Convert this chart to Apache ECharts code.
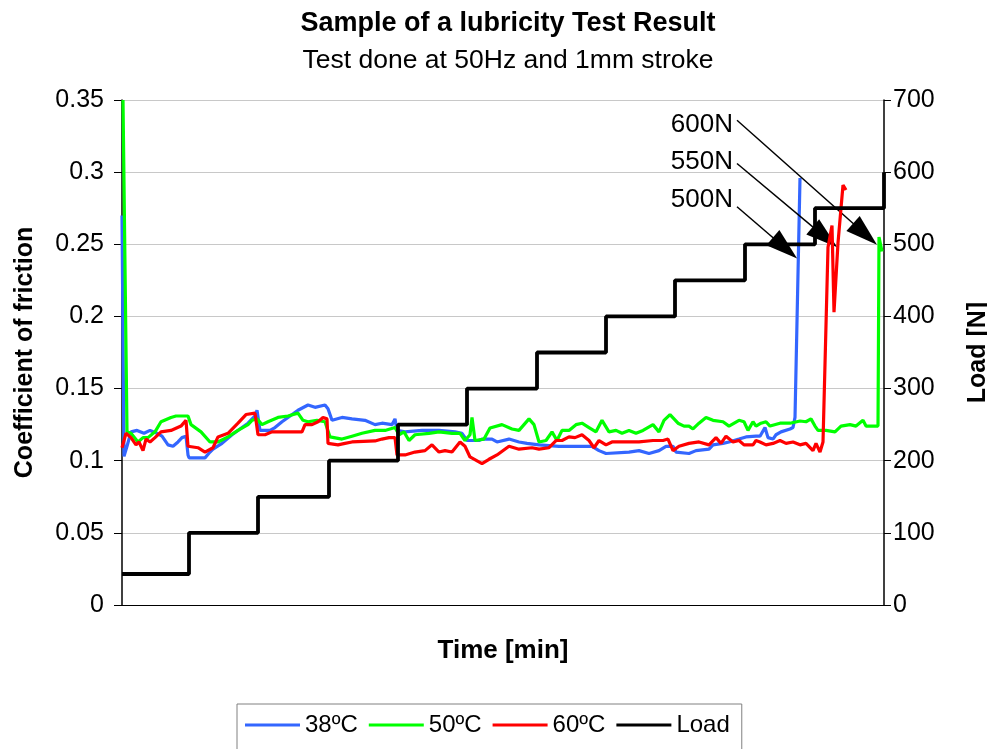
<!DOCTYPE html>
<html>
<head>
<meta charset="utf-8">
<script src="https://cdn.jsdelivr.net/npm/echarts@6/dist/echarts.min.js"></script>
<style>
  html, body { margin: 0; padding: 0; background: #fff; overflow: hidden; }
  #chart { width: 987px; height: 749px; }
</style>
</head>
<body>
<div id="chart"></div>
<script>
// ---- Data (time in arbitrary units along the test; friction coefficient; load in N) ----
const seriesNames = ['38ºC', '50ºC', '60ºC', 'Load'];

const cof38 = [
  [0, 0.27], [2, 0.103], [5, 0.110], [9, 0.120], [15, 0.121], [22, 0.119], [28, 0.121], [35, 0.119],
  [40, 0.117], [46, 0.111], [51, 0.110], [56, 0.113], [60, 0.116], [64, 0.117], [66, 0.104], [67, 0.102],
  [83, 0.102], [88, 0.106], [91, 0.108], [100, 0.112], [110, 0.118], [120, 0.123], [126, 0.126], [133, 0.131],
  [135, 0.135], [138, 0.121], [148, 0.121], [153, 0.123], [160, 0.127], [166, 0.130], [176, 0.135], [186, 0.1386],
  [193, 0.137], [203, 0.1386], [206, 0.136], [210, 0.128], [220, 0.130], [230, 0.129], [243, 0.128], [253, 0.125],
  [260, 0.126], [270, 0.125], [273, 0.129], [275, 0.121], [283, 0.120], [300, 0.121], [317, 0.121], [333, 0.120],
  [340, 0.119], [345, 0.114], [357, 0.114], [360, 0.115], [370, 0.115], [375, 0.113], [387, 0.115], [397, 0.113],
  [405, 0.112], [417, 0.111], [437, 0.110], [457, 0.110], [470, 0.110], [477, 0.107], [484, 0.105], [507, 0.106],
  [517, 0.107], [527, 0.105], [537, 0.107], [544, 0.110], [551, 0.110], [554, 0.106], [567, 0.105], [574, 0.107],
  [587, 0.108], [591, 0.111], [601, 0.112], [607, 0.113], [617, 0.115], [624, 0.1165], [634, 0.117], [638, 0.117],
  [643, 0.123], [646, 0.116], [651, 0.115], [654, 0.118], [659, 0.120], [668, 0.122], [671, 0.123], [673, 0.130],
  [678, 0.296]
];

const cof50 = [
  [1, 0.35], [5, 0.120], [9, 0.119], [16, 0.113], [21, 0.116], [26, 0.116], [33, 0.120], [39, 0.127],
  [49, 0.130], [54, 0.131], [66, 0.131], [69, 0.125], [79, 0.120], [88, 0.113], [96, 0.113], [106, 0.1165],
  [116, 0.121], [126, 0.125], [130, 0.128], [135, 0.129], [140, 0.125], [146, 0.127], [156, 0.130], [166, 0.131],
  [176, 0.133], [181, 0.128], [186, 0.127], [195, 0.128], [203, 0.127], [208, 0.1165], [220, 0.115], [230, 0.117],
  [240, 0.119], [253, 0.121], [263, 0.121], [273, 0.123], [277, 0.118], [282, 0.120], [287, 0.114], [293, 0.118],
  [307, 0.119], [317, 0.120], [330, 0.119], [338, 0.119], [343, 0.114], [348, 0.118], [350, 0.130], [353, 0.114],
  [362, 0.115], [368, 0.1227], [380, 0.125], [390, 0.122], [397, 0.121], [407, 0.129], [412, 0.125], [417, 0.113],
  [424, 0.114], [430, 0.120], [435, 0.114], [440, 0.121], [447, 0.121], [454, 0.125], [460, 0.126], [467, 0.123],
  [474, 0.120], [480, 0.128], [487, 0.120], [494, 0.121], [500, 0.119], [507, 0.121], [514, 0.119], [521, 0.121],
  [531, 0.125], [537, 0.120], [542, 0.128], [548, 0.132], [556, 0.126], [562, 0.124], [567, 0.124], [571, 0.122],
  [577, 0.126], [584, 0.130], [591, 0.128], [601, 0.127], [607, 0.124], [617, 0.128], [622, 0.127], [626, 0.121],
  [631, 0.127], [634, 0.124], [639, 0.126], [644, 0.127], [648, 0.124], [658, 0.126], [668, 0.126], [678, 0.1275],
  [684, 0.127], [689, 0.129], [693, 0.124], [696, 0.121], [704, 0.121], [713, 0.120], [719, 0.124], [728, 0.125],
  [734, 0.124], [741, 0.128], [744, 0.124], [756, 0.124], [757, 0.255], [760, 0.245]
];

const cof60 = [
  [0, 0.109], [4, 0.119], [9, 0.116], [14, 0.111], [17, 0.113], [21, 0.107], [24, 0.115], [28, 0.113],
  [33, 0.116], [39, 0.120], [49, 0.121], [59, 0.124], [64, 0.128], [66, 0.110], [76, 0.109], [83, 0.106],
  [91, 0.109], [96, 0.1165], [106, 0.119], [116, 0.126], [124, 0.132], [133, 0.133], [136, 0.118], [143, 0.118],
  [150, 0.120], [180, 0.120], [183, 0.125], [190, 0.125], [196, 0.127], [201, 0.130], [205, 0.129], [206, 0.112],
  [216, 0.111], [223, 0.112], [230, 0.113], [253, 0.1137], [260, 0.115], [267, 0.116], [273, 0.116], [275, 0.104],
  [283, 0.104], [293, 0.106], [303, 0.107], [310, 0.111], [317, 0.106], [323, 0.107], [330, 0.106], [338, 0.113],
  [343, 0.110], [348, 0.1026], [360, 0.098], [367, 0.101], [375, 0.104], [387, 0.110], [397, 0.108], [410, 0.109],
  [417, 0.108], [427, 0.109], [434, 0.114], [440, 0.114], [447, 0.1165], [453, 0.116], [460, 0.118], [467, 0.114],
  [472, 0.109], [477, 0.114], [484, 0.111], [490, 0.113], [500, 0.113], [507, 0.113], [517, 0.113], [531, 0.114],
  [541, 0.114], [546, 0.115], [551, 0.107], [557, 0.110], [567, 0.112], [577, 0.113], [587, 0.111], [594, 0.116],
  [599, 0.112], [604, 0.117], [611, 0.113], [617, 0.114], [622, 0.111], [631, 0.111], [634, 0.114], [638, 0.113],
  [644, 0.111], [651, 0.112], [658, 0.114], [664, 0.112], [671, 0.113], [678, 0.111], [684, 0.112], [691, 0.107],
  [694, 0.112], [698, 0.106], [701, 0.113], [703, 0.113], [706, 0.248], [710, 0.263], [712, 0.203], [716, 0.251],
  [721, 0.291], [724, 0.2876]
];

const loadStepTimes = [0, 67, 136, 207, 276, 345, 415, 484, 553, 623, 693, 762];
const loadStepValues = [43, 100, 150, 200, 250, 300, 350, 400, 450, 500, 550, 600];

// Annotation arrows: text anchor, line start, arrowhead centre
const annotationLabels = ['600N', '550N', '500N'];
const annotationTextAnchors = [[615, 0.333], [615, 0.307], [615, 0.281]];
const annotationStarts = [[615, 0.336], [615, 0.306], [615, 0.276]];
const annotationEnds = [[743, 0.2571], [703, 0.2550], [663, 0.2474]];

const frictionTicks = { min: 0, max: 0.35, interval: 0.05 };
const loadTicks = { min: 0, max: 700, interval: 100 };

// ---- Chart ----
const FONT = '"Liberation Sans", Arial, sans-serif';
const chart = echarts.init(document.getElementById('chart'), null, { renderer: 'canvas', width: 987, height: 749 });

const loadData = loadStepTimes.map((t, i) => [t, loadStepValues[i]]);

const option = {
  backgroundColor: '#ffffff',
  animation: false,
  textStyle: { fontFamily: FONT, color: '#000' },
  title: {
    text: 'Sample of a lubricity Test Result',
    subtext: 'Test done at 50Hz and 1mm stroke',
    left: 503, top: 5, textAlign: 'center', itemGap: 10,
    textStyle: { fontFamily: FONT, fontSize: 27, fontWeight: 'bold', color: '#000' },
    subtextStyle: { fontFamily: FONT, fontSize: 26.5, color: '#000' }
  },
  legend: {
    data: seriesNames,
    left: 237, top: 704,
    padding: [9, 12, 30, 8],
    itemGap: 11,
    itemWidth: 55, itemHeight: 3,
    icon: 'rect',
    borderColor: '#808080', borderWidth: 1,
    textStyle: { fontFamily: FONT, fontSize: 24, color: '#000' }
  },
  grid: { left: 122, right: 103, top: 100, bottom: 144, containLabel: false, outerBoundsMode: 'none' },
  xAxis: {
    type: 'value', min: 0, max: 762,
    name: 'Time [min]', nameLocation: 'middle', nameGap: 33,
    nameTextStyle: { fontFamily: FONT, fontSize: 26, fontWeight: 'bold', color: '#000' },
    axisLine: { show: true, onZero: false, lineStyle: { color: '#000', width: 1 } },
    axisTick: { show: false }, axisLabel: { show: false }, splitLine: { show: false }
  },
  yAxis: [
    {
      type: 'value', position: 'left',
      min: frictionTicks.min, max: frictionTicks.max, interval: frictionTicks.interval,
      name: 'Coefficient of friction', nameLocation: 'middle', nameGap: 84, nameRotate: 90,
      nameTextStyle: { fontFamily: FONT, fontSize: 25, fontWeight: 'bold', color: '#000' },
      axisLine: { show: true, lineStyle: { color: '#000', width: 1.5 } },
      axisTick: { show: true, length: 8, lineStyle: { color: '#000' } },
      axisLabel: { fontFamily: FONT, fontSize: 25, color: '#000', margin: 18,
        formatter: v => String(+v.toFixed(2)) },
      splitLine: { show: true, lineStyle: { color: '#c8c8c8', width: 1 } }
    },
    {
      type: 'value', position: 'right',
      min: loadTicks.min, max: loadTicks.max, interval: loadTicks.interval,
      name: 'Load [N]', nameLocation: 'middle', nameGap: 82, nameRotate: 90,
      nameTextStyle: { fontFamily: FONT, fontSize: 25, fontWeight: 'bold', color: '#000' },
      axisLine: { show: true, lineStyle: { color: '#000', width: 1.5 } },
      axisTick: { show: true, length: 7, lineStyle: { color: '#000' } },
      axisLabel: { fontFamily: FONT, fontSize: 25, color: '#000', margin: 9 },
      splitLine: { show: false }
    }
  ],
  series: [
    { name: '38ºC', type: 'line', data: cof38, yAxisIndex: 0, showSymbol: false, symbol: 'none',
      lineStyle: { color: '#3366ff', width: 3.2 }, itemStyle: { color: '#3366ff' }, z: 3 },
    { name: '50ºC', type: 'line', data: cof50, yAxisIndex: 0, showSymbol: false, symbol: 'none',
      lineStyle: { color: '#00ff00', width: 3.2 }, itemStyle: { color: '#00ff00' }, z: 4 },
    { name: '60ºC', type: 'line', data: cof60, yAxisIndex: 0, showSymbol: false, symbol: 'none',
      lineStyle: { color: '#ff0000', width: 3.2 }, itemStyle: { color: '#ff0000' }, z: 5 },
    { name: 'Load', type: 'line', data: loadData, yAxisIndex: 1, step: 'end', showSymbol: false, symbol: 'none',
      lineStyle: { color: '#000000', width: 3.8 }, itemStyle: { color: '#000000' }, z: 6 },
    {
      name: 'annotations', type: 'scatter', yAxisIndex: 0, symbolSize: 0, silent: true, z: 7,
      itemStyle: { opacity: 1, color: '#000' },
      data: annotationTextAnchors.map((p, i) => ({ value: p, name: annotationLabels[i] })),
      label: { show: true, position: 'left', distance: 4, formatter: p => p.name,
        fontFamily: FONT, fontSize: 26, color: '#000', opacity: 1 },
      markLine: {
        silent: true, animation: false,
        symbol: ['none', 'triangle'], symbolSize: [20, 32],
        label: { show: false },
        lineStyle: { color: '#000', width: 1.5, type: 'solid', opacity: 1 },
        itemStyle: { color: '#000', opacity: 1 },
        emphasis: { disabled: true },
        data: annotationStarts.map((s, i) => [{ coord: s }, { coord: annotationEnds[i] }])
      }
    }
  ]
};
chart.setOption(option);
</script>
</body>
</html>
